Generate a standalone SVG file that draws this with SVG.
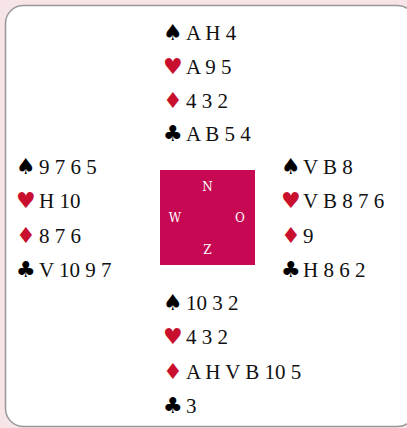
<svg xmlns="http://www.w3.org/2000/svg" width="407" height="428" viewBox="0 0 407 428">
<style>
.t{font-family:"Liberation Serif",serif;font-size:21px;fill:#111;letter-spacing:0px}
.s{font-family:"DejaVu Sans",sans-serif;font-size:22px;fill:#000}
.r{fill:#c8102e}
.c{font-family:"DejaVu Serif","Liberation Serif",serif;font-size:12px;fill:#fff;text-anchor:middle}
</style>
<rect x="0" y="0" width="407" height="428" fill="#f7e4e6"/>
<rect x="5.5" y="5.5" width="410" height="421" rx="18" fill="#fff" stroke="#999" stroke-width="1.5"/>
<g id="north">
<text class="s" x="163" y="40">♠</text><text class="t" x="186" y="40">A H 4</text>
<text class="s r" x="163" y="74">♥</text><text class="t" x="186" y="74">A 9 5</text>
<text class="s r" x="163" y="108">♦</text><text class="t" x="186" y="108">4 3 2</text>
<text class="s" x="163" y="141">♣</text><text class="t" x="186" y="141">A B 5 4</text>
</g>
<g id="west">
<text class="s" x="16" y="174">♠</text><text class="t" x="39" y="174">9 7 6 5</text>
<text class="s r" x="16" y="208">♥</text><text class="t" x="39" y="208">H 10</text>
<text class="s r" x="16" y="243">♦</text><text class="t" x="39" y="243">8 7 6</text>
<text class="s" x="16" y="277">♣</text><text class="t" x="39" y="277">V 10 9 7</text>
</g>
<g id="compass">
<rect x="160" y="170" width="95" height="95" fill="#c60952"/>
<text class="c" x="207.5" y="191">N</text>
<text class="c" x="175" y="222">W</text>
<text class="c" x="240" y="222">O</text>
<text class="c" x="207.5" y="254">Z</text>
</g>
<g id="east">
<text class="s" x="281" y="174">♠</text><text class="t" x="303" y="174">V B 8</text>
<text class="s r" x="281" y="208">♥</text><text class="t" x="303" y="208">V B 8 7 6</text>
<text class="s r" x="281" y="243">♦</text><text class="t" x="303" y="243">9</text>
<text class="s" x="281" y="277">♣</text><text class="t" x="303" y="277">H 8 6 2</text>
</g>
<g id="south">
<text class="s" x="163" y="310">♠</text><text class="t" x="186" y="310">10 3 2</text>
<text class="s r" x="163" y="344">♥</text><text class="t" x="186" y="344">4 3 2</text>
<text class="s r" x="163" y="379">♦</text><text class="t" x="186" y="379">A H V B 10 5</text>
<text class="s" x="163" y="413">♣</text><text class="t" x="186" y="413">3</text>
</g>
<g id="connectors"></g>
</svg>
